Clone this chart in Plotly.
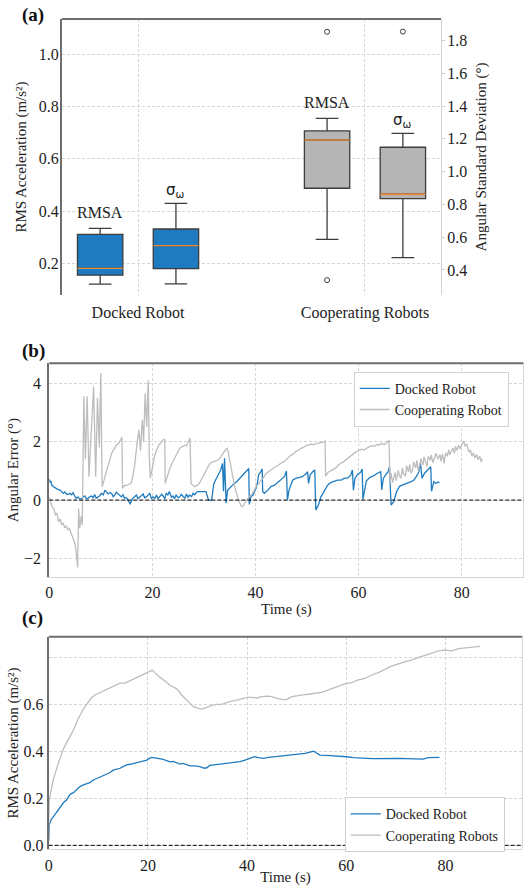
import plotly.graph_objects as go

# ---------------- Panel (a) data: box statistics ----------------
categories = ["Docked Robot", "Cooperating Robots"]
rmsa_lower = [0.121, 0.292]
rmsa_q1 = [0.155, 0.487]
rmsa_median = [0.181, 0.672]
rmsa_q3 = [0.311, 0.706]
rmsa_upper = [0.334, 0.754]
rmsa_outliers = [[], [1.085, 0.136]]

sigma_lower = [0.315, 0.475]
sigma_q1 = [0.408, 0.835]
sigma_median = [0.548, 0.862]
sigma_q3 = [0.650, 1.149]
sigma_upper = [0.807, 1.234]
sigma_outliers = [[], [1.855]]

# ---------------- Panel (b) data: angular error ----------------
docked_err_t = [0.0, 0.15, 0.3, 0.5, 0.8, 1.1, 1.4, 1.7, 2.1, 2.4, 2.7, 3.0, 3.4, 3.7, 4.0, 4.3, 4.6, 4.9,
                5.2, 5.6, 5.9, 6.3, 6.6, 6.9, 7.2, 7.5, 7.9, 8.2, 8.5, 8.8, 9.1, 9.5, 9.8, 10.1, 10.5, 10.8,
                11.1, 11.4, 11.8, 12.1, 12.4, 12.7, 13.0, 13.3, 13.7, 14.0, 14.3, 14.6, 15.0, 15.3, 15.7,
                16.0, 16.2, 16.6, 16.9, 17.2, 17.5, 17.9, 18.2, 18.5, 18.8, 19.2, 19.5, 19.8, 20.1, 20.5,
                20.8, 21.1, 21.4, 21.8, 22.1, 22.4, 22.7, 23.0, 23.3, 23.7, 24.0, 24.3, 24.6, 25.0, 25.3,
                25.6, 25.9, 26.3, 26.6, 26.9, 27.2, 27.6, 27.9, 28.2, 28.5, 28.8, 30.4, 30.9, 31.5, 31.9,
                32.4, 32.8, 33.2, 33.6, 33.8, 34.0, 34.3, 34.6, 35.0, 35.3, 35.9, 36.3, 36.6, 37.2, 37.6,
                37.9, 38.5, 38.7, 38.8, 39.1, 39.5, 40.1, 40.4, 40.6, 41.1, 41.3, 41.4, 41.7, 42.4, 43.0,
                43.7, 44.3, 44.9, 45.6, 46.0, 46.2, 46.5, 47.2, 47.8, 48.5, 49.1, 49.8, 50.1, 50.3, 50.6,
                51.1, 51.5, 51.7, 52.2, 52.7, 53.3, 54.0, 54.6, 55.3, 55.9, 56.6, 57.2, 57.9, 58.5, 58.8,
                59.0, 59.3, 59.8, 60.4, 60.7, 60.85, 61.2, 61.5, 62.2, 62.8, 63.5, 64.0, 64.3, 64.5, 64.8,
                65.3, 65.7, 66.0, 66.3, 66.8, 67.4, 68.0, 68.6, 69.3, 70.1, 70.7, 71.2, 71.7, 72.0, 72.3,
                72.8, 73.3, 73.8, 74.0, 74.15, 74.6, 75.0, 75.4, 75.7]
docked_err_v = [0.72, 0.6, 0.66, 0.5, 0.46, 0.42, 0.4, 0.36, 0.34, 0.3, 0.23, 0.28, 0.19, 0.2, 0.23, 0.18, 0.25, 0.15,
                0.06, 0.11, 0.02, 0.06, 0.1, 0.14, 0.05, 0.06, 0.12, 0.14, 0.08, 0.19, 0.06, 0.11, 0.15, 0.23, 0.18, 0.34,
                0.25, 0.21, 0.26, 0.23, 0.12, 0.17, 0.27, 0.23, 0.15, 0.11, 0.18, 0.06, 0.08, 0.0, -0.14,
                0.0, 0.06, 0.12, 0.17, 0.05, 0.11, 0.16, 0.21, 0.08, 0.11, 0.2, 0.23, 0.05, 0.11, 0.07,
                0.17, 0.05, 0.11, 0.2, 0.14, 0.05, 0.23, 0.18, 0.29, 0.1, 0.14, 0.05, 0.17, 0.08, 0.11,
                0.2, 0.14, 0.06, 0.21, 0.1, 0.17, 0.12, 0.23, 0.18, 0.25, 0.29, 0.29, 0.0, 0.0, 0.55,
                0.74, 0.85, 1.0, 1.25, 0.3, 1.43, -0.11, 0.34, 0.42, 0.46, 0.57, 0.62, 0.68, 0.8, 0.85,
                0.91, 1.03, 1.08, -0.15, 0.11, 0.17, 0.4, 0.6, 0.86, 0.99, 1.06, 0.29, 0.23, 0.34, 0.46,
                0.51, 0.6, 0.68, 0.8, 0.99, 0.0, 0.34, 0.68, 0.74, 0.76, 0.8, 0.9, 0.97, 0.57, 0.86,
                0.97, 1.03, -0.34, -0.17, 0.11, 0.29, 0.51, 0.6, 0.63, 0.68, 0.68, 0.74, 0.76, 0.86, 1.03,
                0.34, 0.74, 0.88, 0.95, 1.06, 0.02, 0.45, 0.65, 0.78, 0.82, 0.9, 0.95, 0.97, 0.35, 0.74,
                0.88, 0.95, 1.14, -0.17, -0.06, 0.3, 0.48, 0.53, 0.57, 0.62, 0.68, 0.8, 0.97, 1.26, 0.75,
                0.92, 1.02, 1.12, 1.14, 0.3, 0.63, 0.57, 0.62, 0.6]

coop_err_t = [0.0, 0.3, 0.6, 0.9, 1.2, 1.5, 1.8, 2.1, 2.4, 2.7, 3.0, 3.3, 3.6, 3.9, 4.2, 4.5, 4.8, 5.1, 5.3, 5.5,
              5.7, 5.9, 6.2, 6.4, 6.7, 7.0, 7.35, 7.7, 8.1, 8.6, 9.0, 9.35, 9.7, 10.0, 10.25, 10.7, 11.1, 11.6,
              12.1, 12.6, 13.0, 13.5, 14.1, 14.2, 14.6, 15.0, 15.5, 15.9, 16.3, 16.6, 17.1, 17.4, 17.7, 18.05,
              18.3, 18.6, 18.9, 19.2, 19.4, 19.6, 20.0, 20.4, 20.9, 21.3, 21.7, 22.0, 22.4, 22.5, 22.9, 23.3,
              23.8, 24.3, 24.8, 25.3, 25.8, 26.2, 26.6, 26.9, 27.3, 27.5, 28.2, 28.7, 29.1, 29.8, 30.3, 30.8,
              31.2, 31.7, 32.2, 32.7, 33.2, 33.7, 34.2, 34.5, 34.7, 35.3, 35.9, 36.6, 37.2, 37.5, 38.2, 38.5,
              39.1, 39.5, 40.1, 40.6, 41.1, 41.6, 42.0, 42.5, 43.0, 43.5, 44.0, 44.5, 44.9, 45.4, 45.9, 46.4,
              46.9, 47.4, 47.8, 48.3, 48.8, 49.3, 49.8, 50.3, 50.8, 51.2, 51.7, 52.2, 52.7, 53.1, 53.5, 53.6,
              54.1, 54.6, 55.1, 55.6, 56.0, 56.5, 57.0, 57.5, 58.0, 58.5, 59.0, 59.4, 60.0, 60.5, 61.1, 61.6,
              62.0, 62.6, 63.0, 63.6, 64.0, 64.5, 65.0, 65.5, 65.9, 66.1, 66.3, 66.6, 66.8, 67.1, 67.3, 67.7,
              67.9, 68.2, 68.5, 68.7, 69.1, 69.3, 69.7, 69.9, 70.2, 70.5, 70.7, 71.1, 71.3, 71.6, 71.9, 72.1,
              72.5, 72.7, 73.0, 73.3, 73.5, 73.9, 74.1, 74.4, 74.8, 75.0, 75.4, 75.8, 76.0, 76.3, 76.6, 76.9,
              77.2, 77.5, 77.7, 78.0, 78.3, 78.6, 78.8, 79.1, 79.4, 79.7, 80.1, 80.4, 80.7, 81.0, 81.4, 81.7,
              82.0, 82.3, 82.6, 82.9, 83.2, 83.5, 83.8, 84.0]
coop_err_v = [0.1, -0.05, -0.25, -0.3, -0.5, -0.45, -0.75, -0.65, -0.85, -0.78, -0.95, -0.88, -1.02, -0.97, -1.1,
              -1.25, -1.4, -1.6, -1.9, -2.3, -0.3, -0.95, -0.55, -0.85, 3.55, 1.4, 3.55, 0.8, 2.2, 3.88, 0.8, 3.5,
              1.8, 4.35, 0.45, 0.75, 1.05, 1.3, 1.6, 1.75, 1.88, 1.95, 2.15, 0.4, 0.5, 0.5, 0.55, 0.58, 0.9, 1.25,
              2.05, 2.4, 1.7, 2.75, 2.0, 3.65, 2.5, 4.1, 1.5, 0.75, 1.1, 1.5, 1.75, 1.9, 1.95, 2.05, 2.08, 0.57,
              0.8, 1.05, 1.25, 1.45, 1.6, 1.77, 1.82, 1.88, 1.85, 1.95, 2.12, 0.57, 0.46, 0.5, 0.57, 0.8, 1.0,
              1.14, 1.25, 1.31, 1.33, 1.37, 1.45, 1.6, 1.72, 1.77, 1.66, 1.08, 0.51, 0.06, -0.2, -0.22, -0.02,
              0.05, 0.17, 0.25, 0.46, 0.55, 0.68, 0.78, 0.9, 0.95, 1.03, 1.1, 1.14, 1.2, 1.26, 1.3, 1.37, 1.45,
              1.54, 1.58, 1.66, 1.7, 1.77, 1.8, 1.86, 1.88, 1.91, 1.9, 1.93, 1.95, 1.97, 1.98, 2.02, 0.82, 0.95,
              1.0, 1.05, 1.1, 1.18, 1.26, 1.3, 1.37, 1.45, 1.54, 1.58, 1.63, 1.7, 1.74, 1.72, 1.78, 1.82, 1.86,
              1.84, 1.9, 1.88, 1.94, 1.9, 1.97, 2.05, 0.57, 0.92, 0.6, 0.78, 0.95, 0.66, 1.02, 0.85,
              0.74, 1.1, 0.9, 0.82, 1.18, 0.96, 1.22, 0.92, 1.05, 1.3, 1.1, 1.36, 1.0, 1.22, 1.42, 1.2,
              1.48, 1.3, 1.15, 1.5, 1.36, 1.55, 1.28, 1.46, 1.6, 1.4, 1.56, 1.32, 1.58, 1.25, 1.62, 1.5,
              1.72, 1.55, 1.66, 1.78, 1.6, 1.84, 1.7, 1.88, 1.76, 1.92, 2.02, 1.85, 1.9, 1.64, 1.72, 1.5,
              1.62, 1.44, 1.56, 1.38, 1.5, 1.3, 1.42, 1.15]

# ---------------- Panel (c) data: running RMS acceleration ----------------
docked_rms_t = [0.0, 0.13, 0.47, 0.93, 1.6, 2.3, 3.0, 3.6, 4.3, 5.0, 5.6, 6.3, 7.0, 7.7, 8.3, 9.0, 9.7, 10.3,
                11.0, 11.7, 12.3, 13.0, 13.7, 14.4, 15.0, 15.7, 16.4, 17.1, 17.7, 18.4, 19.1, 19.8, 20.3,
                20.8, 21.4, 22.4, 23.1, 23.8, 24.5, 25.1, 25.8, 26.5, 27.1, 27.8, 28.5, 29.5, 30.5, 31.2,
                31.8, 32.5, 33.5, 34.5, 35.5, 36.6, 37.6, 38.6, 39.6, 40.6, 41.5, 42.3, 43.3, 44.3, 45.6,
                47.3, 48.0, 49.3, 50.7, 51.7, 52.7, 53.4, 53.9, 54.7, 56.0, 57.4, 58.7, 60.1, 61.4, 62.8,
                64.1, 65.4, 66.8, 68.1, 69.5, 70.8, 72.1, 73.5, 74.8, 75.5, 76.5, 77.5, 78.8]
docked_rms_v = [0.02, 0.087, 0.108, 0.122, 0.139, 0.165, 0.182, 0.193, 0.217, 0.224, 0.235, 0.25, 0.257, 0.261,
                0.267, 0.278, 0.285, 0.292, 0.299, 0.306, 0.309, 0.32, 0.323, 0.328, 0.335, 0.342, 0.345, 0.349,
                0.352, 0.355, 0.359, 0.363, 0.37, 0.374, 0.372, 0.37, 0.366, 0.36, 0.355, 0.357, 0.352, 0.346,
                0.349, 0.343, 0.338, 0.338, 0.335, 0.329, 0.329, 0.34, 0.343, 0.343, 0.346, 0.352, 0.355, 0.356,
                0.363, 0.37, 0.377, 0.373, 0.37, 0.374, 0.377, 0.382, 0.383, 0.386, 0.389, 0.391, 0.397, 0.401,
                0.394, 0.384, 0.383, 0.382, 0.38, 0.377, 0.373, 0.37, 0.37, 0.369, 0.37, 0.37, 0.369, 0.37,
                0.369, 0.369, 0.367, 0.367, 0.373, 0.374, 0.374]

coop_rms_t = [0.0, 0.06, 0.26, 0.93, 1.94, 2.95, 3.96, 4.97, 5.97, 7.0, 8.0, 8.7, 9.3, 10.3, 11.3, 12.3, 13.4,
              14.4, 15.4, 16.4, 17.4, 18.4, 19.4, 20.4, 20.9, 21.4, 22.4, 23.4, 24.5, 25.5, 26.1, 26.8, 27.5,
              28.2, 29.2, 30.2, 30.8, 31.9, 32.9, 33.9, 34.9, 35.9, 36.9, 38.0, 39.0, 40.0, 41.0, 42.0, 43.0,
              44.0, 45.0, 46.0, 47.3, 48.0, 49.0, 50.0, 51.3, 52.7, 54.0, 55.0, 56.0, 57.4, 58.7, 59.7, 61.1,
              62.4, 63.8, 65.1, 66.5, 67.8, 69.1, 70.5, 71.8, 73.2, 74.5, 75.9, 77.2, 78.6, 79.9, 81.3, 82.6,
              84.0, 85.3, 86.3, 87.0]
coop_rms_v = [0.02, 0.18, 0.21, 0.28, 0.35, 0.41, 0.45, 0.49, 0.54, 0.58, 0.61, 0.63, 0.64, 0.65, 0.66, 0.67,
              0.68, 0.69, 0.69, 0.70, 0.71, 0.72, 0.73, 0.74, 0.746, 0.735, 0.715, 0.70, 0.68, 0.67, 0.66, 0.64,
              0.625, 0.61, 0.59, 0.583, 0.58, 0.587, 0.596, 0.60, 0.60, 0.607, 0.614, 0.618, 0.625, 0.63, 0.63,
              0.627, 0.633, 0.635, 0.633, 0.625, 0.62, 0.62, 0.633, 0.635, 0.64, 0.644, 0.647, 0.651, 0.658,
              0.668, 0.678, 0.687, 0.692, 0.704, 0.711, 0.725, 0.735, 0.749, 0.763, 0.772, 0.779, 0.789, 0.799,
              0.81, 0.82, 0.828, 0.831, 0.828, 0.837, 0.84, 0.843, 0.844, 0.847]

# ---------------- Styling ----------------
FONT = "Liberation Serif"
BLUE = "#1f7bbf"
GREY_FILL = "#b5b5b5"
GREY_LINE = "#bdbdbd"
EDGE = "#3d3d3d"
ORANGE = "#f0882c"
SPINE_DARK = "#6e6e6e"
SPINE_LIGHT = "#d4d4d4"
GRID = "#d6d6d6"
GRID_DASH = "3px,2px"
box_colors = [BLUE, GREY_FILL]
offset = 0.167
bw = 0.2
TICK = 16


def f(size):
    return dict(family=FONT, size=size, color="#222")


fig = go.Figure()

for i, cat in enumerate(categories):
    p = i - offset
    fig.add_trace(go.Box(x=[p], q1=[rmsa_q1[i]], median=[rmsa_median[i]], q3=[rmsa_q3[i]],
                         lowerfence=[rmsa_lower[i]], upperfence=[rmsa_upper[i]], width=bw,
                         fillcolor=box_colors[i], line=dict(color=EDGE, width=1.3), whiskerwidth=0.5,
                         boxpoints=False, xaxis="x", yaxis="y", showlegend=False, hoverinfo="skip"))
    fig.add_trace(go.Scatter(x=[p - bw / 2, p + bw / 2], y=[rmsa_median[i]] * 2, mode="lines",
                             line=dict(color=ORANGE, width=1.3), xaxis="x", yaxis="y", showlegend=False,
                             hoverinfo="skip"))
    if rmsa_outliers[i]:
        fig.add_trace(go.Scatter(x=[p] * len(rmsa_outliers[i]), y=rmsa_outliers[i], mode="markers",
                                 marker=dict(symbol="circle-open", size=5, color=EDGE, line=dict(width=1)),
                                 xaxis="x", yaxis="y", showlegend=False, hoverinfo="skip"))
    q = i + offset
    fig.add_trace(go.Box(x=[q], q1=[sigma_q1[i]], median=[sigma_median[i]], q3=[sigma_q3[i]],
                         lowerfence=[sigma_lower[i]], upperfence=[sigma_upper[i]], width=bw,
                         fillcolor=box_colors[i], line=dict(color=EDGE, width=1.3), whiskerwidth=0.5,
                         boxpoints=False, xaxis="x", yaxis="y2", showlegend=False, hoverinfo="skip"))
    fig.add_trace(go.Scatter(x=[q - bw / 2, q + bw / 2], y=[sigma_median[i]] * 2, mode="lines",
                             line=dict(color=ORANGE, width=1.3), xaxis="x", yaxis="y2", showlegend=False,
                             hoverinfo="skip"))
    if sigma_outliers[i]:
        fig.add_trace(go.Scatter(x=[q] * len(sigma_outliers[i]), y=sigma_outliers[i], mode="markers",
                                 marker=dict(symbol="circle-open", size=5, color=EDGE, line=dict(width=1)),
                                 xaxis="x", yaxis="y2", showlegend=False, hoverinfo="skip"))
    fig.add_annotation(x=p, y=rmsa_upper[i], xref="x", yref="y", text="RMSA", showarrow=False,
                       yanchor="bottom", yshift=5, font=f(TICK))
    fig.add_annotation(x=q, y=sigma_upper[i], xref="x", yref="y2", text="σ<sub>ω</sub>", showarrow=False,
                       yanchor="bottom", yshift=1, font=dict(family="DejaVu Sans", size=15, color="#222"))

# Panel (b)
fig.add_trace(go.Scatter(x=docked_err_t, y=docked_err_v, mode="lines", name="Docked Robot",
                         line=dict(color=BLUE, width=1.3), xaxis="x2", yaxis="y3", legend="legend"))
fig.add_trace(go.Scatter(x=coop_err_t, y=coop_err_v, mode="lines", name="Cooperating Robot",
                         line=dict(color=GREY_LINE, width=1.3), xaxis="x2", yaxis="y3", legend="legend"))
# Panel (c)
fig.add_trace(go.Scatter(x=docked_rms_t, y=docked_rms_v, mode="lines", name="Docked Robot",
                         line=dict(color=BLUE, width=1.3), xaxis="x3", yaxis="y4", legend="legend2"))
fig.add_trace(go.Scatter(x=coop_rms_t, y=coop_rms_v, mode="lines", name="Cooperating Robots",
                         line=dict(color=GREY_LINE, width=1.3), xaxis="x3", yaxis="y4", legend="legend2"))

common_grid = dict(showgrid=True, gridcolor=GRID, griddash=GRID_DASH, gridwidth=1, zeroline=False,
                   automargin=False)

fig.update_layout(
    width=526, height=886, margin=dict(l=0, r=0, t=0, b=0),
    paper_bgcolor="white", plot_bgcolor="white",
    font=f(15),
    boxmode="overlay",
    xaxis=dict(domain=[0.1179, 0.8384], range=[-0.335, 1.335], tickvals=[0, 1], ticktext=categories,
               anchor="y", showline=False, tickfont=f(TICK), ticks="", ticklabelstandoff=6, **common_grid),
    yaxis=dict(domain=[0.667, 0.9786], range=[0.079, 1.134], tickvals=[0.2, 0.4, 0.6, 0.8, 1.0],
               tickformat=".1f", anchor="x", showline=True, linecolor=SPINE_DARK, linewidth=2,
               tickfont=f(TICK), ticks="", ticklabelstandoff=-2,
               title=dict(text="RMS Acceleration (m/s²)", font=f(15), standoff=9), **common_grid),
    yaxis2=dict(overlaying="y", side="right", anchor="x", range=[0.247, 1.932], dtick=0.2, tick0=0,
                tickformat=".1f", showgrid=False, zeroline=False, showline=True, linecolor=SPINE_LIGHT,
                linewidth=1, ticks="outside", ticklen=3, tickcolor="#cfcfcf", tickfont=f(TICK),
                ticklabelstandoff=-1, automargin=False,
                title=dict(text="Angular Standard Deviation (°)", font=f(15), standoff=9)),
    xaxis2=dict(domain=[0.0937, 0.9953], range=[0, 92], dtick=20, anchor="y3", showline=True,
                linecolor=SPINE_LIGHT, linewidth=1, tickfont=f(TICK), ticks="", ticklabelstandoff=1,
                title=dict(text="Time (s)", font=f(15), standoff=0), **common_grid),
    yaxis3=dict(domain=[0.3488, 0.5900], range=[-2.63, 4.68], tickvals=[-2, 0, 2, 4],
                ticktext=["−2", "0", "2", "4"], anchor="x2", showline=True, linecolor=SPINE_DARK, linewidth=2,
                tickfont=f(TICK), ticks="", ticklabelstandoff=3,
                title=dict(text="Angular Error (°)", font=f(15), standoff=2), **common_grid),
    xaxis3=dict(domain=[0.0926, 0.9930], range=[0, 95.5], dtick=20, anchor="y4", showline=True,
                linecolor=SPINE_LIGHT, linewidth=1, tickfont=f(TICK), ticks="", ticklabelstandoff=1,
                title=dict(text="Time (s)", font=f(15), standoff=0), **common_grid),
    yaxis4=dict(domain=[0.0414, 0.2814], range=[-0.017, 0.888], tickvals=[0, 0.2, 0.4, 0.6, 0.8],
                ticktext=["0.0", "0.2", "0.4", "0.6", ""], anchor="x3", showline=True, linecolor=SPINE_DARK,
                linewidth=2, tickfont=f(TICK), ticks="", ticklabelstandoff=0,
                title=dict(text="RMS Acceleration (m/s²)", font=f(15), standoff=1), **common_grid),
    legend=dict(x=0.6725, y=0.5805, xanchor="left", yanchor="top", bgcolor="white", bordercolor="#d0d0d0",
                borderwidth=1, font=f(14), tracegroupgap=0),
    legend2=dict(x=0.6553, y=0.1001, xanchor="left", yanchor="top", bgcolor="white", bordercolor="#d0d0d0",
                 borderwidth=1, font=f(14), tracegroupgap=0),
)

shapes = []
for xr, yr in [("x", "y"), ("x2", "y3"), ("x3", "y4")]:
    shapes.append(dict(type="line", xref=f"{xr} domain", yref=f"{yr} domain", x0=0, x1=1, y0=1, y1=1,
                       line=dict(color=SPINE_DARK, width=2), layer="above"))
for xr, yr in [("x2", "y3"), ("x3", "y4")]:
    shapes.append(dict(type="line", xref=f"{xr} domain", yref=f"{yr} domain", x0=1, x1=1, y0=0, y1=1,
                       line=dict(color=SPINE_LIGHT, width=1), layer="above"))
    shapes.append(dict(type="line", xref=f"{xr} domain", yref=yr, x0=0, x1=1, y0=0, y1=0,
                       line=dict(color="black", width=1, dash="4px,2px"), layer="above"))
fig.update_layout(shapes=shapes)

for label, ypos in [("(a)", 0.983), ("(b)", 0.6038), ("(c)", 0.302)]:
    fig.add_annotation(x=20 / 526, y=ypos, xref="paper", yref="paper", xanchor="left", yanchor="middle",
                       text=f"<b>{label}</b>", showarrow=False, font=dict(family=FONT, size=19, color="#111"))

fig.write_html("out.html", config={"displayModeBar": False},
               post_script="document.body.style.margin='0px';document.body.style.padding='0px';")
